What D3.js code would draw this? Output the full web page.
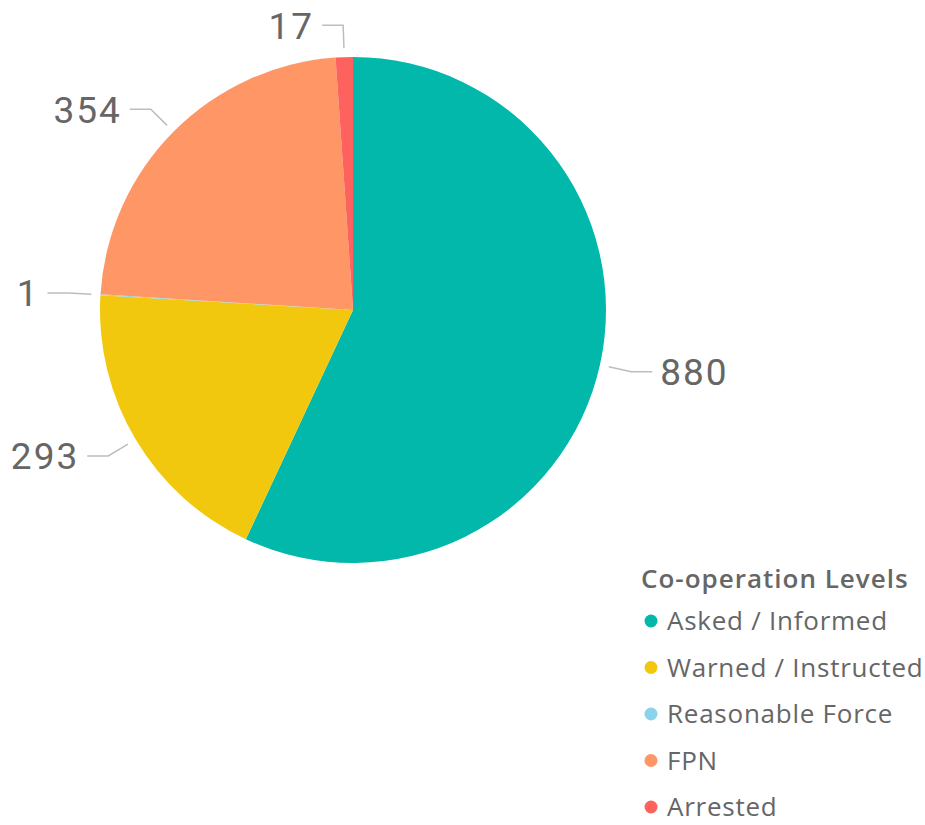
<!DOCTYPE html>
<html>
<head>
<meta charset="utf-8">
<script src="https://cdn.jsdelivr.net/npm/d3@7"></script>
<style>
  body { margin: 0; background: #fff; }
</style>
</head>
<body>
<div id="chart"></div>
<script>
var categories = ["Asked / Informed", "Warned / Instructed", "Reasonable Force", "FPN", "Arrested"];
var values = [880, 293, 1, 354, 17];
var colors = ["#01B8AA", "#F2C80F", "#8AD4EB", "#FE9666", "#FD625E"];
var legendTitle = "Co-operation Levels";

var width = 925;
var height = 825;
var cx = 353, cy = 310;
var radius = 253;

var data = categories.map(function(c, i) { return {name: c, value: values[i]}; });

var svg = d3.select("#chart")
  .append("svg")
  .attr("width", width)
  .attr("height", height);

var g = svg.append("g")
  .attr("transform", "translate(" + cx + "," + cy + ")");

var pie = d3.pie()
  .value(function(d) { return d.value; })
  .sort(null);

var arc = d3.arc()
  .innerRadius(0)
  .outerRadius(radius);

var arcs = pie(data);

g.selectAll("path.slice")
  .data(arcs)
  .enter()
  .append("path")
  .attr("class", "slice")
  .attr("d", arc)
  .attr("fill", function(d, i) { return colors[i]; });

// leader lines + labels
var startArc = d3.arc().innerRadius(radius + 9).outerRadius(radius + 9);
var elbowArc = d3.arc().innerRadius(radius + 32).outerRadius(radius + 32);

arcs.forEach(function(d) {
  var mid = (d.startAngle + d.endAngle) / 2;
  var right = Math.sin(mid) > 0;
  var p0 = startArc.centroid(d);
  var p1 = elbowArc.centroid(d);
  var p2 = [p1[0] + (right ? 21 : -21), p1[1]];

  g.append("polyline")
    .attr("points", [p0, p1, p2].map(function(p) { return p.join(","); }).join(" "))
    .attr("fill", "none")
    .attr("stroke", "#bdbdbd")
    .attr("stroke-width", 1.5);

  g.append("text")
    .attr("x", p2[0] + (right ? 8 : -8))
    .attr("y", p2[1])
    .attr("dy", "0.36em")
    .attr("text-anchor", right ? "start" : "end")
    .attr("font-family", "Roboto, 'DejaVu Sans', sans-serif")
    .attr("font-size", 37)
    .attr("letter-spacing", 2)
    .attr("fill", "#666")
    .text(d.data.value);
});

// legend
var legend = svg.append("g")
  .attr("transform", "translate(641,0)");

legend.append("text")
  .attr("x", 0)
  .attr("y", 588)
  .attr("font-family", "'Open Sans', 'Noto Sans', sans-serif")
  .attr("font-weight", 600)
  .attr("font-size", 26)
  .attr("letter-spacing", 1)
  .attr("fill", "#666")
  .text(legendTitle);

var item = legend.selectAll("g.item")
  .data(data)
  .enter()
  .append("g")
  .attr("class", "item")
  .attr("transform", function(d, i) { return "translate(0," + (621 + i * 46.5) + ")"; });

item.append("circle")
  .attr("cx", 10)
  .attr("cy", 0)
  .attr("r", 6.5)
  .attr("fill", function(d, i) { return colors[i]; });

item.append("text")
  .attr("x", 26)
  .attr("y", 0)
  .attr("dy", "0.36em")
  .attr("font-family", "'Open Sans', 'Noto Sans', sans-serif")
  .attr("font-size", 26)
  .attr("letter-spacing", 0.75)
  .attr("fill", "#666")
  .text(function(d) { return d.name; });
</script>
</body>
</html>
